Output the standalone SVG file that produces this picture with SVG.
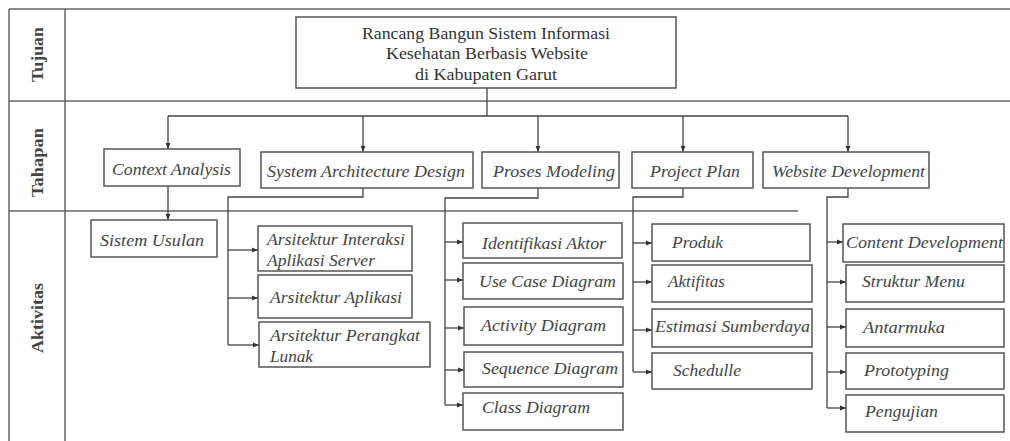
<svg xmlns="http://www.w3.org/2000/svg" width="1010" height="441" viewBox="0 0 1010 441">
<style>
.frame{stroke:#666;stroke-width:1.5;fill:none}
.box{fill:#fff;stroke:#555;stroke-width:1.5}
.ln{stroke:#444;stroke-width:1.3;fill:none}
.t{font-family:"Liberation Serif",serif;font-style:italic;font-size:17px;fill:#444}
.title{font-family:"Liberation Serif",serif;font-size:17px;fill:#333}
.lbl{font-family:"Liberation Serif",serif;font-weight:bold;font-size:16px;fill:#444}
</style>
<defs>
<marker id="ah" viewBox="0 0 10 10" refX="10" refY="5" markerWidth="5" markerHeight="5" orient="auto">
<path d="M0,1 L10,5 L0,9 z" fill="#333"/>
</marker>
</defs>
<rect width="1010" height="441" fill="#fff"/>
<g id="frame">
<line class="frame" x1="9" y1="9" x2="1010" y2="9"/>
<line class="frame" x1="9" y1="9" x2="9" y2="441"/>
<line class="frame" x1="65" y1="9" x2="65" y2="441"/>
<line class="frame" x1="9" y1="101" x2="1010" y2="101"/>
<line class="frame" x1="9" y1="211" x2="798" y2="211"/>
<text class="lbl" transform="translate(43,82) rotate(-90)" textLength="55" lengthAdjust="spacingAndGlyphs">Tujuan</text>
<text class="lbl" transform="translate(43,197) rotate(-90)" textLength="69" lengthAdjust="spacingAndGlyphs">Tahapan</text>
<text class="lbl" transform="translate(43,353) rotate(-90)" textLength="70" lengthAdjust="spacingAndGlyphs">Aktivitas</text>
</g>
<g id="connectors">
<path class="ln" d="M487,88 V116"/>
<path class="ln" d="M168,116 H848"/>
<path class="ln" d="M168,116 V149" marker-end="url(#ah)"/>
<path class="ln" d="M363,116 V152" marker-end="url(#ah)"/>
<path class="ln" d="M538,116 V152" marker-end="url(#ah)"/>
<path class="ln" d="M683,116 V152" marker-end="url(#ah)"/>
<path class="ln" d="M848,116 V152" marker-end="url(#ah)"/>
<path class="ln" d="M168,186 V220" marker-end="url(#ah)"/>
<path class="ln" d="M363,188 V197 H228 V345"/>
<path class="ln" d="M228,250 H258" marker-end="url(#ah)"/>
<path class="ln" d="M228,298 H258" marker-end="url(#ah)"/>
<path class="ln" d="M228,345 H259" marker-end="url(#ah)"/>
<path class="ln" d="M538,188 V198 H445 V405"/>
<path class="ln" d="M445,242 H463" marker-end="url(#ah)"/>
<path class="ln" d="M445,280 H463" marker-end="url(#ah)"/>
<path class="ln" d="M445,328 H464" marker-end="url(#ah)"/>
<path class="ln" d="M445,370 H464" marker-end="url(#ah)"/>
<path class="ln" d="M445,405 H463" marker-end="url(#ah)"/>
<path class="ln" d="M683,188 V197 H633 V372"/>
<path class="ln" d="M633,243 H652" marker-end="url(#ah)"/>
<path class="ln" d="M633,282 H652" marker-end="url(#ah)"/>
<path class="ln" d="M633,330 H652" marker-end="url(#ah)"/>
<path class="ln" d="M633,372 H652" marker-end="url(#ah)"/>
<path class="ln" d="M848,188 V197 H827 V408"/>
<path class="ln" d="M827,242 H843" marker-end="url(#ah)"/>
<path class="ln" d="M827,282 H846" marker-end="url(#ah)"/>
<path class="ln" d="M827,327 H846" marker-end="url(#ah)"/>
<path class="ln" d="M827,372 H846" marker-end="url(#ah)"/>
<path class="ln" d="M827,408 H846" marker-end="url(#ah)"/>
</g>
<g id="title">
<rect class="box" x="296" y="17" width="380" height="71"/>
<text class="title" x="362" y="39" textLength="248" lengthAdjust="spacingAndGlyphs">Rancang Bangun Sistem Informasi</text>
<text class="title" x="386" y="59" textLength="202" lengthAdjust="spacingAndGlyphs">Kesehatan Berbasis Website</text>
<text class="title" x="415" y="80" textLength="142" lengthAdjust="spacingAndGlyphs">di Kabupaten Garut</text>
</g>
<g id="context-analysis"><rect class="box" x="104" y="149" width="136" height="37"/><text class="t" x="112" y="175" textLength="119" lengthAdjust="spacingAndGlyphs">Context Analysis</text></g>
<g id="system-architecture"><rect class="box" x="261" y="152" width="212" height="36"/><text class="t" x="267" y="177" textLength="198" lengthAdjust="spacingAndGlyphs">System Architecture Design</text></g>
<g id="proses-modeling"><rect class="box" x="482" y="152" width="137" height="36"/><text class="t" x="493" y="177" textLength="122" lengthAdjust="spacingAndGlyphs">Proses Modeling</text></g>
<g id="project-plan"><rect class="box" x="632" y="152" width="121" height="36"/><text class="t" x="650" y="177" textLength="90" lengthAdjust="spacingAndGlyphs">Project Plan</text></g>
<g id="website-development"><rect class="box" x="763" y="152" width="166" height="36"/><text class="t" x="772" y="177" textLength="153" lengthAdjust="spacingAndGlyphs">Website Development</text></g>
<g id="sistem-usulan"><rect class="box" x="91" y="220" width="126" height="37"/><text class="t" x="100" y="246" textLength="104" lengthAdjust="spacingAndGlyphs">Sistem Usulan</text></g>
<g id="arsitektur-interaksi"><rect class="box" x="258" y="226" width="154" height="45"/><text class="t" x="267" y="245" textLength="138" lengthAdjust="spacingAndGlyphs">Arsitektur Interaksi</text><text class="t" x="267" y="266" textLength="108" lengthAdjust="spacingAndGlyphs">Aplikasi Server</text></g>
<g id="arsitektur-aplikasi"><rect class="box" x="258" y="275" width="154" height="43"/><text class="t" x="270" y="303" textLength="132" lengthAdjust="spacingAndGlyphs">Arsitektur Aplikasi</text></g>
<g id="arsitektur-perangkat"><rect class="box" x="259" y="322" width="171" height="45"/><text class="t" x="270" y="341" textLength="150" lengthAdjust="spacingAndGlyphs">Arsitektur Perangkat</text><text class="t" x="270" y="362" textLength="43" lengthAdjust="spacingAndGlyphs">Lunak</text></g>
<g id="identifikasi-aktor"><rect class="box" x="463" y="223" width="159" height="35"/><text class="t" x="482" y="249" textLength="124" lengthAdjust="spacingAndGlyphs">Identifikasi Aktor</text></g>
<g id="use-case"><rect class="box" x="463" y="263" width="160" height="36"/><text class="t" x="479" y="287" textLength="137" lengthAdjust="spacingAndGlyphs">Use Case Diagram</text></g>
<g id="activity"><rect class="box" x="464" y="307" width="159" height="38"/><text class="t" x="481" y="331" textLength="125" lengthAdjust="spacingAndGlyphs">Activity Diagram</text></g>
<g id="sequence"><rect class="box" x="464" y="352" width="159" height="35"/><text class="t" x="482" y="374" textLength="136" lengthAdjust="spacingAndGlyphs">Sequence Diagram</text></g>
<g id="class"><rect class="box" x="463" y="393" width="160" height="37"/><text class="t" x="482" y="413" textLength="108" lengthAdjust="spacingAndGlyphs">Class Diagram</text></g>
<g id="produk"><rect class="box" x="652" y="224" width="158" height="37"/><text class="t" x="672" y="248" textLength="51" lengthAdjust="spacingAndGlyphs">Produk</text></g>
<g id="aktifitas"><rect class="box" x="652" y="265" width="160" height="37"/><text class="t" x="668" y="287" textLength="57" lengthAdjust="spacingAndGlyphs">Aktifitas</text></g>
<g id="estimasi"><rect class="box" x="652" y="309" width="160" height="38"/><text class="t" x="655" y="332" textLength="155" lengthAdjust="spacingAndGlyphs">Estimasi Sumberdaya</text></g>
<g id="schedulle"><rect class="box" x="652" y="353" width="160" height="36"/><text class="t" x="673" y="376" textLength="68" lengthAdjust="spacingAndGlyphs">Schedulle</text></g>
<g id="content-development"><rect class="box" x="843" y="224" width="161" height="38"/><text class="t" x="846" y="248" textLength="157" lengthAdjust="spacingAndGlyphs">Content Development</text></g>
<g id="struktur-menu"><rect class="box" x="846" y="265" width="158" height="37"/><text class="t" x="862" y="287" textLength="103" lengthAdjust="spacingAndGlyphs">Struktur Menu</text></g>
<g id="antarmuka"><rect class="box" x="846" y="309" width="158" height="38"/><text class="t" x="863" y="333" textLength="82" lengthAdjust="spacingAndGlyphs">Antarmuka</text></g>
<g id="prototyping"><rect class="box" x="846" y="353" width="158" height="36"/><text class="t" x="864" y="376" textLength="85" lengthAdjust="spacingAndGlyphs">Prototyping</text></g>
<g id="pengujian"><rect class="box" x="846" y="395" width="158" height="37"/><text class="t" x="865" y="417" textLength="73" lengthAdjust="spacingAndGlyphs">Pengujian</text></g>
</svg>
